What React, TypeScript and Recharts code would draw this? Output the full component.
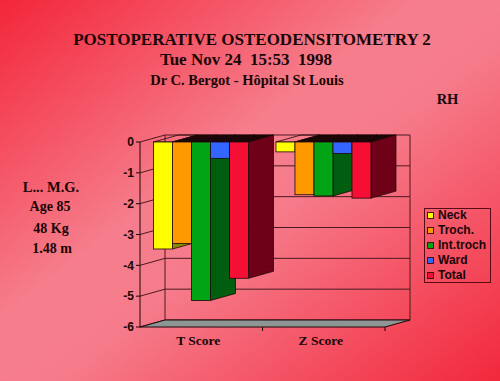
import React from 'react';
import { BarChart, Bar, XAxis, YAxis, CartesianGrid, Legend, ReferenceArea } from 'recharts';

// ---- data ----
const categories = ['T Score', 'Z Score'];
const neck = [-3.47, -0.32];
const troch = [-3.29, -1.71];
const intTroch = [-5.14, -1.75];
const ward = [-0.53, -0.37];
const total = [-4.42, -1.82];
const yTicks = [0, -1, -2, -3, -4, -5, -6];

const titleLines = ['POSTOPERATIVE OSTEODENSITOMETRY 2', 'Tue Nov 24  15:53  1998', 'Dr C. Bergot - Hôpital St Louis'];
const sideLabel = 'RH';
const patientLines = ['L... M.G.', 'Age 85', '48 Kg', '1.48 m'];

const data = categories.map((c, i) => ({
  cat: c,
  neck: neck[i],
  troch: troch[i],
  intTroch: intTroch[i],
  ward: ward[i],
  total: total[i],
}));

const series = [
  { key: 'neck', name: 'Neck', front: '#ffff00', side: '#8a8a00', top: 'none' },
  { key: 'troch', name: 'Troch.', front: '#ff9900', side: '#9a5c00', top: '#1a0606' },
  { key: 'intTroch', name: 'Int.troch', front: '#00a414', side: '#005e10', top: '#1a0606' },
  { key: 'ward', name: 'Ward', front: '#3366ff', side: '#1a3388', top: '#1a0606' },
  { key: 'total', name: 'Total', front: '#f50f35', side: '#6e0018', top: '#1a0606' },
];
const seriesOrder = series.map((s) => s.name);

const DX = 25;
const DY = -7;
const EDGE = '#1e0608';
const GRID = '#4a1a20';
const SERIF = '"Liberation Serif", "Times New Roman", serif';
const SANS = '"Liberation Sans", Arial, sans-serif';

const make3D = (side: string, top: string) => (props: any) => {
  const { x, y, width, height, fill } = props;
  if (x == null || y == null) return <g />;
  const t = Math.min(y, y + height);
  const b = Math.max(y, y + height);
  const r = x + width;
  return (
    <g>
      <polygon
        points={`${x},${t} ${x + DX},${t + DY} ${r + DX},${t + DY} ${r},${t}`}
        fill={top}
        stroke={EDGE}
        strokeWidth={0.8}
      />
      <polygon
        points={`${r},${t} ${r + DX},${t + DY} ${r + DX},${b + DY} ${r},${b}`}
        fill={side}
        stroke={EDGE}
        strokeWidth={0.8}
      />
      <rect x={x} y={t} width={width} height={b - t} fill={fill} stroke={EDGE} strokeWidth={0.8} />
    </g>
  );
};

const Frame = (p: any) => {
  const { x, y, width, height } = p;
  const l = x;
  const r = x + width;
  const t = y;
  const b = y + height;
  const n = categories.length;
  const ticks = Array.from({ length: n }, (_, i) => l + ((i + 1) * width) / n);
  return (
    <g>
      <polygon
        points={`${l},${b} ${l + DX},${b + DY} ${r + DX},${b + DY} ${r},${b}`}
        fill="#8e9595"
        stroke={EDGE}
        strokeWidth={1}
      />
      <line x1={l + DX} y1={t + DY} x2={l + DX} y2={b + DY} stroke={GRID} strokeWidth={1} />
      <line x1={r + DX} y1={t + DY} x2={r + DX} y2={b + DY} stroke={GRID} strokeWidth={1} />
      {ticks.map((tx, i) => (
        <line key={i} x1={tx} y1={b} x2={tx} y2={b + 4} stroke={EDGE} strokeWidth={1} />
      ))}
    </g>
  );
};

const gridLine = (p: any) => (
  <g key={`g-${p.index}-${p.y1}`}>
    <line x1={p.x1} y1={p.y1} x2={p.x1 + DX} y2={p.y1 + DY} stroke={GRID} strokeWidth={1} />
    <line x1={p.x1 + DX} y1={p.y1 + DY} x2={p.x2 + DX} y2={p.y2 + DY} stroke={GRID} strokeWidth={1} />
  </g>
);

const YTick = (p: any) => (
  <text
    x={p.x}
    y={p.y}
    dy="0.36em"
    textAnchor="end"
    fontFamily={SANS}
    fontWeight="bold"
    fontSize={12}
    fill="#1a0505"
  >
    {p.payload.value}
  </text>
);

const XTick = (p: any) => (
  <text
    x={p.x - 3}
    y={p.y + 10}
    textAnchor="middle"
    fontFamily={SERIF}
    fontWeight="bold"
    fontSize={13.5}
    fill="#1a0505"
  >
    {p.payload.value}
  </text>
);

const LegendBox = (p: any) => {
  const items = [...(p.payload || [])].sort(
    (a: any, b: any) => seriesOrder.indexOf(a.value) - seriesOrder.indexOf(b.value)
  );
  return (
    <div
      style={{
        boxSizing: 'border-box',
        width: 67,
        height: 75,
        border: `1px solid #5a0a14`,
        paddingLeft: 2,
      }}
    >
      <div style={{ marginTop: -1 }}>
        {items.map((it: any, i: number) => (
          <div
            key={i}
            style={{
              display: 'flex',
              alignItems: 'center',
              height: 15,
              lineHeight: '15px',
              fontFamily: SANS,
              fontWeight: 'bold',
              fontSize: 12,
              color: '#1a0505',
              whiteSpace: 'nowrap',
            }}
          >
            <span
              style={{
                display: 'inline-block',
                width: 5,
                height: 5,
                background: it.color,
                border: '1px solid #4a1010',
                marginRight: 4,
              }}
            />
            {it.value}
          </div>
        ))}
      </div>
    </div>
  );
};

export default function App() {
  return (
    <div
      style={{
        position: 'absolute',
        left: 0,
        top: 0,
        width: 500,
        height: 381,
        overflow: 'hidden',
        background: 'linear-gradient(to bottom right, #f3263a 0%, #f67e8c 42%, #f67c8b 55%, #f2283c 100%)',
      }}
    >
      <svg width={500} height={381} style={{ position: 'absolute', left: 0, top: 0 }}>
        <g fontFamily={SERIF} fontWeight="bold" fill="#1a0505" textAnchor="middle">
          <text x={252} y={45} fontSize={17}>{titleLines[0]}</text>
          <text x={246} y={65} fontSize={17} style={{ whiteSpace: 'pre' }}>{titleLines[1]}</text>
          <text x={247} y={85} fontSize={14.5}>{titleLines[2]}</text>
          <text x={447.5} y={104} fontSize={14.5}>{sideLabel}</text>
          <text x={51} y={192} fontSize={14.5}>{patientLines[0]}</text>
          <text x={50} y={211} fontSize={14}>{patientLines[1]}</text>
          <text x={51} y={233} fontSize={14}>{patientLines[2]}</text>
          <text x={52} y={253} fontSize={14}>{patientLines[3]}</text>
        </g>
      </svg>
      <div style={{ position: 'absolute', left: 0, top: 0 }}>
        <BarChart
          width={500}
          height={381}
          data={data}
          margin={{ top: 142, right: 115, bottom: 24, left: 80 }}
          barGap={0}
          barCategoryGap="11%"
        >
          <CartesianGrid vertical={false} horizontal={gridLine} />
          <ReferenceArea y1={-6} y2={0} shape={Frame} ifOverflow="visible" />
          <XAxis dataKey="cat" height={30} axisLine={false} tickLine={false} tick={XTick} interval={0} />
          <YAxis
            type="number"
            domain={[-6, 0]}
            ticks={yTicks}
            width={60}
            tickSize={4}
            interval={0}
            axisLine={{ stroke: EDGE, strokeWidth: 1 }}
            tickLine={{ stroke: EDGE, strokeWidth: 1 }}
            tick={YTick}
          />
          {series.map((s) => (
            <Bar
              key={s.key}
              dataKey={s.key}
              name={s.name}
              fill={s.front}
              isAnimationActive={false}
              shape={make3D(s.side, s.top)}
            />
          ))}
          <Legend
            layout="vertical"
            align="center"
            verticalAlign="middle"
            wrapperStyle={{ left: 424, top: 208, width: 67, height: 75 }}
            content={(p: any) => <LegendBox payload={p.payload} />}
          />
        </BarChart>
      </div>
    </div>
  );
}
